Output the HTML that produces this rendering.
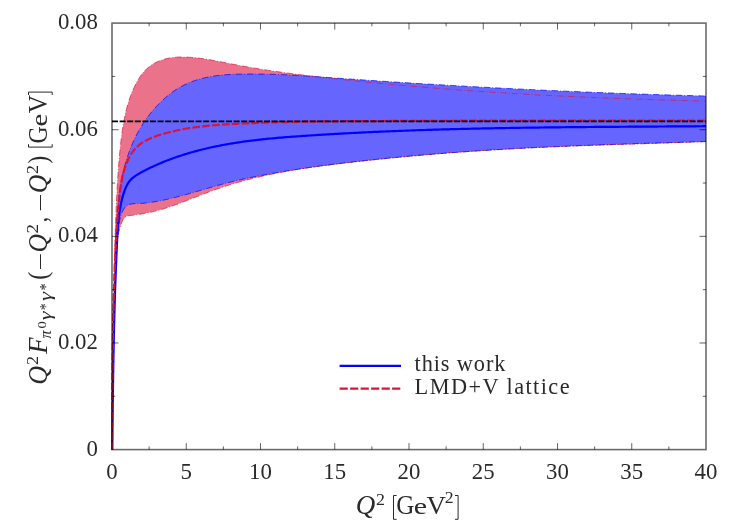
<!DOCTYPE html><html><head><meta charset="utf-8"><style>html,body{margin:0;padding:0;background:#fff}svg{display:block;will-change:transform}.s{font-family:"Liberation Serif",serif}</style></head><body><svg width="747" height="523" viewBox="0 0 747 523">
<rect width="747" height="523" fill="#fff"/>
<defs><clipPath id="cp"><rect x="111.00" y="23.10" width="596.00" height="427.00"/></clipPath></defs>
<g clip-path="url(#cp)" fill="none">
<path d="M112.20,449.60 L112.16,447.21 L112.17,444.83 L112.18,442.45 L112.20,440.06 L112.21,437.68 L112.22,435.30 L112.23,432.91 L112.25,430.53 L112.26,428.15 L112.27,425.76 L112.28,423.38 L112.30,421.00 L112.31,418.61 L112.32,416.23 L112.34,413.84 L112.35,411.46 L112.37,409.08 L112.38,406.69 L112.39,404.31 L112.41,401.92 L112.42,399.54 L112.44,397.16 L112.46,394.77 L112.47,392.39 L112.49,390.00 L112.50,387.62 L112.52,385.23 L112.54,382.85 L112.56,380.46 L112.57,378.08 L112.59,375.70 L112.61,373.31 L112.63,370.93 L112.65,368.54 L112.67,366.16 L112.70,363.77 L112.72,361.39 L112.74,359.00 L112.76,356.62 L112.79,354.23 L112.81,351.85 L112.84,349.47 L112.86,347.08 L112.89,344.70 L112.92,342.31 L112.94,339.93 L112.97,337.54 L113.00,335.16 L113.03,332.77 L113.06,330.39 L113.10,328.00 L113.13,325.62 L113.16,323.23 L113.20,320.85 L113.23,318.47 L113.27,316.08 L113.31,313.70 L113.34,311.31 L113.38,308.93 L113.42,306.54 L113.46,304.16 L113.51,301.78 L113.55,299.39 L113.59,297.01 L113.64,294.62 L113.68,292.24 L113.73,289.85 L113.78,287.47 L113.83,285.09 L113.88,282.70 L113.93,280.32 L113.99,277.94 L114.04,275.55 L114.10,273.17 L114.15,270.78 L114.21,268.40 L114.27,266.02 L114.33,263.63 L114.39,261.25 L114.46,258.87 L114.52,256.48 L114.59,254.10 L114.66,251.72 L114.73,249.34 L114.80,246.95 L114.87,244.57 L114.94,242.19 L115.02,239.81 L115.09,237.42 L115.17,235.04 L115.25,232.66 L115.33,230.28 L115.41,227.89 L115.50,225.51 L115.58,223.13 L115.67,220.75 L115.76,218.37 L115.85,215.99 L115.95,213.60 L116.04,211.22 L116.14,208.84 L116.24,206.46 L116.35,204.08 L116.46,201.70 L116.57,199.32 L116.69,196.94 L116.81,194.56 L116.93,192.18 L117.06,189.80 L117.19,187.42 L117.33,185.04 L117.47,182.66 L117.62,180.28 L117.77,177.90 L117.93,175.52 L118.10,173.14 L118.26,170.76 L118.44,168.38 L118.62,166.00 L118.81,163.62 L119.01,161.24 L119.21,158.86 L119.42,156.49 L119.64,154.11 L119.86,151.73 L120.09,149.35 L120.33,146.97 L120.59,144.60 L120.85,142.23 L121.13,139.85 L121.42,137.49 L121.73,135.12 L122.05,132.76 L122.39,130.40 L122.75,128.05 L123.12,125.70 L123.52,123.35 L123.94,121.01 L124.38,118.68 L124.84,116.35 L125.34,114.04 L125.87,111.72 L126.43,109.42 L127.03,107.12 L127.67,104.83 L128.35,102.55 L129.08,100.28 L129.84,98.02 L130.65,95.78 L131.51,93.54 L132.42,91.31 L133.37,89.10 L134.37,86.90 L135.43,84.72 L136.55,82.56 L137.73,80.45 L138.98,78.39 L140.30,76.38 L141.69,74.45 L143.17,72.59 L144.73,70.82 L146.38,69.14 L148.13,67.58 L149.97,66.13 L151.90,64.79 L153.91,63.56 L155.99,62.45 L158.14,61.44 L160.35,60.55 L162.60,59.76 L164.89,59.08 L167.21,58.50 L169.56,58.03 L171.93,57.65 L174.31,57.37 L176.70,57.18 L179.10,57.06 L181.50,57.02 L183.91,57.04 L186.31,57.11 L188.72,57.24 L191.11,57.40 L193.50,57.60 L195.88,57.82 L198.25,58.08 L200.61,58.37 L202.97,58.69 L205.32,59.04 L207.66,59.41 L210.00,59.81 L212.34,60.23 L214.67,60.67 L217.00,61.12 L219.33,61.58 L221.66,62.04 L224.00,62.50 L226.33,62.96 L228.67,63.42 L231.01,63.87 L233.35,64.33 L235.70,64.77 L238.04,65.22 L240.39,65.66 L242.73,66.09 L245.08,66.51 L247.43,66.93 L249.78,67.34 L252.13,67.74 L254.48,68.14 L256.83,68.53 L259.19,68.91 L261.54,69.29 L263.90,69.66 L266.26,70.03 L268.61,70.38 L270.97,70.74 L273.33,71.09 L275.69,71.43 L278.05,71.77 L280.41,72.10 L282.77,72.43 L285.13,72.75 L287.50,73.07 L289.86,73.39 L292.22,73.70 L294.59,74.00 L296.95,74.31 L299.32,74.60 L301.69,74.90 L304.05,75.19 L306.42,75.48 L308.79,75.76 L311.16,76.04 L313.52,76.32 L315.89,76.60 L318.26,76.87 L320.63,77.14 L323.00,77.41 L325.37,77.68 L327.74,77.94 L330.11,78.21 L332.48,78.47 L334.85,78.73 L337.22,78.98 L339.59,79.24 L341.96,79.49 L344.33,79.75 L346.70,80.00 L349.08,80.25 L351.45,80.49 L353.82,80.74 L356.19,80.98 L358.56,81.22 L360.93,81.46 L363.31,81.70 L365.68,81.94 L368.05,82.17 L370.42,82.41 L372.80,82.64 L375.17,82.87 L377.54,83.10 L379.92,83.32 L382.29,83.55 L384.66,83.77 L387.04,83.99 L389.41,84.21 L391.79,84.43 L394.16,84.65 L396.53,84.86 L398.91,85.08 L401.28,85.29 L403.66,85.50 L406.03,85.71 L408.41,85.91 L410.78,86.12 L413.16,86.32 L415.53,86.53 L417.91,86.73 L420.28,86.92 L422.66,87.12 L425.04,87.32 L427.41,87.51 L429.79,87.70 L432.17,87.90 L434.54,88.08 L436.92,88.27 L439.30,88.46 L441.67,88.64 L444.05,88.83 L446.43,89.01 L448.80,89.19 L451.18,89.37 L453.56,89.54 L455.94,89.72 L458.31,89.89 L460.69,90.07 L463.07,90.24 L465.45,90.41 L467.83,90.58 L470.20,90.74 L472.58,90.91 L474.96,91.07 L477.34,91.23 L479.72,91.39 L482.10,91.55 L484.48,91.71 L486.85,91.87 L489.23,92.02 L491.61,92.18 L493.99,92.33 L496.37,92.48 L498.75,92.63 L501.13,92.78 L503.51,92.92 L505.89,93.07 L508.27,93.21 L510.65,93.35 L513.03,93.49 L515.41,93.63 L517.79,93.77 L520.17,93.91 L522.55,94.04 L524.93,94.18 L527.31,94.31 L529.69,94.44 L532.08,94.57 L534.46,94.70 L536.84,94.83 L539.22,94.96 L541.60,95.08 L543.98,95.21 L546.36,95.33 L548.74,95.45 L551.12,95.57 L553.51,95.69 L555.89,95.81 L558.27,95.92 L560.65,96.04 L563.03,96.15 L565.42,96.26 L567.80,96.38 L570.18,96.49 L572.56,96.60 L574.94,96.70 L577.33,96.81 L579.71,96.92 L582.09,97.02 L584.47,97.13 L586.85,97.23 L589.24,97.33 L591.62,97.43 L594.00,97.53 L596.38,97.63 L598.77,97.73 L601.15,97.82 L603.53,97.92 L605.91,98.01 L608.30,98.10 L610.68,98.20 L613.06,98.29 L615.45,98.38 L617.83,98.47 L620.21,98.55 L622.59,98.64 L624.98,98.73 L627.36,98.81 L629.74,98.90 L632.13,98.98 L634.51,99.06 L636.89,99.14 L639.27,99.22 L641.66,99.30 L644.04,99.38 L646.42,99.46 L648.81,99.54 L651.19,99.61 L653.57,99.69 L655.96,99.76 L658.34,99.83 L660.72,99.91 L663.10,99.98 L665.49,100.05 L667.87,100.12 L670.25,100.19 L672.64,100.25 L675.02,100.32 L677.40,100.39 L679.79,100.45 L682.17,100.52 L684.55,100.58 L686.93,100.65 L689.32,100.71 L691.70,100.77 L694.08,100.83 L696.47,100.89 L698.85,100.95 L701.23,101.01 L703.62,101.07 L706.00,101.10 L706.00,141.50 L703.94,141.58 L701.88,141.67 L699.82,141.76 L697.76,141.84 L695.70,141.92 L693.64,142.01 L691.58,142.09 L689.51,142.17 L687.45,142.25 L685.39,142.33 L683.33,142.40 L681.27,142.48 L679.21,142.56 L677.15,142.63 L675.09,142.70 L673.02,142.78 L670.96,142.85 L668.90,142.92 L666.84,142.99 L664.78,143.06 L662.71,143.13 L660.65,143.20 L658.59,143.27 L656.53,143.33 L654.46,143.40 L652.40,143.47 L650.34,143.53 L648.28,143.60 L646.21,143.66 L644.15,143.73 L642.09,143.79 L640.03,143.85 L637.96,143.92 L635.90,143.98 L633.84,144.04 L631.77,144.11 L629.71,144.17 L627.65,144.23 L625.59,144.30 L623.52,144.36 L621.46,144.42 L619.40,144.48 L617.33,144.55 L615.27,144.61 L613.21,144.67 L611.14,144.74 L609.08,144.80 L607.02,144.87 L604.95,144.93 L602.89,144.99 L600.83,145.06 L598.77,145.12 L596.70,145.19 L594.64,145.26 L592.58,145.32 L590.51,145.39 L588.45,145.46 L586.39,145.53 L584.32,145.59 L582.26,145.66 L580.20,145.73 L578.14,145.80 L576.07,145.88 L574.01,145.95 L571.95,146.02 L569.89,146.10 L567.82,146.17 L565.76,146.25 L563.70,146.32 L561.64,146.40 L559.57,146.48 L557.51,146.56 L555.45,146.64 L553.39,146.73 L551.32,146.81 L549.26,146.89 L547.20,146.98 L545.14,147.07 L543.08,147.16 L541.02,147.25 L538.95,147.34 L536.89,147.43 L534.83,147.52 L532.77,147.62 L530.71,147.72 L528.65,147.81 L526.59,147.91 L524.53,148.02 L522.47,148.12 L520.41,148.22 L518.34,148.33 L516.28,148.44 L514.22,148.55 L512.16,148.66 L510.10,148.78 L508.04,148.89 L505.98,149.01 L503.92,149.13 L501.87,149.25 L499.81,149.37 L497.75,149.49 L495.69,149.62 L493.63,149.75 L491.57,149.87 L489.51,150.01 L487.45,150.14 L485.39,150.27 L483.34,150.41 L481.28,150.54 L479.22,150.68 L477.16,150.82 L475.10,150.96 L473.04,151.11 L470.99,151.25 L468.93,151.40 L466.87,151.55 L464.81,151.70 L462.76,151.85 L460.70,152.00 L458.64,152.15 L456.59,152.31 L454.53,152.47 L452.47,152.63 L450.42,152.79 L448.36,152.95 L446.30,153.11 L444.25,153.28 L442.19,153.45 L440.13,153.61 L438.08,153.78 L436.02,153.96 L433.97,154.13 L431.91,154.30 L429.85,154.48 L427.80,154.66 L425.74,154.84 L423.69,155.02 L421.63,155.20 L419.58,155.38 L417.52,155.57 L415.47,155.75 L413.41,155.94 L411.36,156.13 L409.30,156.32 L407.25,156.51 L405.19,156.70 L403.14,156.90 L401.09,157.10 L399.03,157.29 L396.98,157.49 L394.92,157.69 L392.87,157.90 L390.82,158.10 L388.76,158.30 L386.71,158.51 L384.66,158.72 L382.60,158.93 L380.55,159.14 L378.50,159.35 L376.44,159.56 L374.39,159.77 L372.34,159.99 L370.29,160.21 L368.23,160.43 L366.18,160.65 L364.13,160.87 L362.08,161.09 L360.02,161.31 L357.97,161.54 L355.92,161.76 L353.87,161.99 L351.82,162.22 L349.76,162.45 L347.71,162.69 L345.66,162.92 L343.61,163.16 L341.56,163.40 L339.51,163.65 L337.46,163.89 L335.41,164.14 L333.36,164.39 L331.31,164.65 L329.27,164.91 L327.22,165.17 L325.17,165.43 L323.13,165.70 L321.08,165.98 L319.04,166.25 L316.99,166.53 L314.95,166.82 L312.91,167.11 L310.86,167.40 L308.82,167.70 L306.78,168.01 L304.74,168.32 L302.71,168.63 L300.67,168.95 L298.63,169.28 L296.60,169.61 L294.56,169.95 L292.53,170.29 L290.49,170.64 L288.46,170.99 L286.43,171.36 L284.40,171.72 L282.38,172.10 L280.35,172.48 L278.32,172.87 L276.30,173.26 L274.28,173.67 L272.25,174.08 L270.23,174.49 L268.21,174.92 L266.20,175.35 L264.18,175.79 L262.17,176.24 L260.15,176.70 L258.14,177.17 L256.13,177.64 L254.13,178.12 L252.12,178.61 L250.12,179.12 L248.12,179.63 L246.12,180.15 L244.12,180.68 L242.13,181.22 L240.14,181.77 L238.16,182.33 L236.17,182.90 L234.19,183.48 L232.22,184.07 L230.25,184.67 L228.28,185.29 L226.31,185.91 L224.35,186.55 L222.40,187.20 L220.45,187.86 L218.50,188.53 L216.56,189.21 L214.62,189.90 L212.68,190.61 L210.75,191.32 L208.82,192.04 L206.89,192.76 L204.96,193.49 L203.03,194.23 L201.11,194.97 L199.18,195.71 L197.26,196.46 L195.33,197.21 L193.41,197.96 L191.48,198.71 L189.55,199.46 L187.62,200.21 L185.69,200.96 L183.76,201.70 L181.82,202.44 L179.88,203.16 L177.94,203.88 L176.00,204.59 L174.05,205.29 L172.10,205.98 L170.15,206.65 L168.19,207.30 L166.23,207.94 L164.27,208.56 L162.30,209.16 L160.32,209.74 L158.34,210.29 L156.36,210.82 L154.37,211.33 L152.37,211.81 L150.37,212.26 L148.36,212.69 L146.35,213.08 L144.33,213.46 L142.30,213.81 L140.27,214.14 L138.22,214.45 L136.18,214.74 L134.12,215.02 L132.06,215.28 L129.98,215.53 L127.95,215.85 L126.07,216.50 L124.50,217.71 L123.23,219.37 L122.23,221.23 L121.44,223.19 L120.78,225.20 L120.17,227.22 L119.58,229.22 L119.03,231.21 L118.53,233.20 L118.08,235.20 L117.71,237.21 L117.39,239.23 L117.12,241.27 L116.90,243.31 L116.72,245.35 L116.57,247.41 L116.45,249.47 L116.35,251.53 L116.26,253.59 L116.18,255.66 L116.09,257.72 L116.01,259.79 L115.93,261.85 L115.85,263.92 L115.77,265.98 L115.69,268.05 L115.61,270.11 L115.54,272.18 L115.46,274.24 L115.39,276.30 L115.32,278.37 L115.24,280.43 L115.17,282.50 L115.10,284.56 L115.03,286.62 L114.96,288.69 L114.90,290.75 L114.83,292.81 L114.76,294.88 L114.70,296.94 L114.64,299.00 L114.57,301.07 L114.51,303.13 L114.45,305.19 L114.39,307.26 L114.33,309.32 L114.27,311.38 L114.22,313.44 L114.16,315.51 L114.11,317.57 L114.05,319.63 L114.00,321.69 L113.95,323.76 L113.89,325.82 L113.84,327.88 L113.79,329.94 L113.74,332.01 L113.69,334.07 L113.65,336.13 L113.60,338.19 L113.55,340.26 L113.51,342.32 L113.47,344.38 L113.42,346.44 L113.38,348.51 L113.34,350.57 L113.30,352.63 L113.26,354.69 L113.22,356.76 L113.18,358.82 L113.14,360.88 L113.10,362.94 L113.07,365.00 L113.03,367.07 L113.00,369.13 L112.96,371.19 L112.93,373.25 L112.90,375.32 L112.87,377.38 L112.84,379.44 L112.81,381.50 L112.78,383.57 L112.75,385.63 L112.72,387.69 L112.69,389.75 L112.67,391.82 L112.64,393.88 L112.62,395.94 L112.59,398.01 L112.57,400.07 L112.54,402.13 L112.52,404.20 L112.50,406.26 L112.48,408.32 L112.46,410.38 L112.44,412.45 L112.42,414.51 L112.40,416.57 L112.38,418.64 L112.37,420.70 L112.35,422.77 L112.33,424.83 L112.32,426.89 L112.31,428.96 L112.29,431.02 L112.28,433.09 L112.27,435.15 L112.25,437.21 L112.24,439.28 L112.23,441.34 L112.22,443.41 L112.21,445.47 L112.20,447.54 L112.20,449.60 Z" fill="#ea728a"/>
<path d="M112.20,449.60 L112.20,447.31 L112.19,445.03 L112.19,442.75 L112.19,440.46 L112.19,438.18 L112.19,435.90 L112.19,433.61 L112.20,431.33 L112.20,429.04 L112.21,426.76 L112.22,424.47 L112.23,422.19 L112.24,419.90 L112.26,417.62 L112.27,415.33 L112.29,413.05 L112.31,410.76 L112.33,408.48 L112.35,406.19 L112.38,403.91 L112.40,401.62 L112.43,399.34 L112.45,397.05 L112.48,394.77 L112.51,392.48 L112.54,390.20 L112.57,387.91 L112.60,385.63 L112.64,383.34 L112.67,381.06 L112.71,378.77 L112.74,376.49 L112.78,374.20 L112.82,371.91 L112.86,369.63 L112.90,367.34 L112.94,365.06 L112.98,362.77 L113.02,360.49 L113.07,358.20 L113.11,355.92 L113.15,353.63 L113.20,351.35 L113.24,349.06 L113.29,346.78 L113.34,344.49 L113.38,342.21 L113.43,339.92 L113.48,337.63 L113.53,335.35 L113.58,333.06 L113.62,330.78 L113.67,328.50 L113.72,326.21 L113.77,323.93 L113.82,321.64 L113.87,319.36 L113.92,317.07 L113.97,314.79 L114.02,312.50 L114.07,310.22 L114.12,307.94 L114.17,305.65 L114.22,303.37 L114.27,301.08 L114.32,298.80 L114.37,296.52 L114.42,294.23 L114.47,291.95 L114.52,289.67 L114.57,287.38 L114.62,285.10 L114.66,282.82 L114.71,280.53 L114.76,278.25 L114.81,275.97 L114.87,273.69 L114.92,271.40 L114.97,269.12 L115.03,266.84 L115.09,264.56 L115.15,262.27 L115.21,259.99 L115.28,257.71 L115.34,255.43 L115.42,253.14 L115.49,250.86 L115.57,248.58 L115.65,246.30 L115.73,244.01 L115.82,241.73 L115.92,239.45 L116.02,237.16 L116.12,234.88 L116.23,232.60 L116.34,230.31 L116.46,228.03 L116.59,225.74 L116.72,223.46 L116.85,221.18 L117.00,218.89 L117.15,216.61 L117.31,214.32 L117.49,212.04 L117.67,209.76 L117.87,207.48 L118.07,205.20 L118.30,202.93 L118.53,200.65 L118.79,198.38 L119.06,196.11 L119.34,193.84 L119.65,191.58 L119.97,189.32 L120.32,187.06 L120.68,184.81 L121.07,182.56 L121.48,180.32 L121.92,178.08 L122.38,175.84 L122.86,173.61 L123.37,171.39 L123.91,169.17 L124.48,166.95 L125.07,164.74 L125.70,162.54 L126.35,160.35 L127.03,158.17 L127.74,156.00 L128.49,153.83 L129.26,151.68 L130.06,149.54 L130.89,147.41 L131.76,145.30 L132.65,143.20 L133.58,141.11 L134.54,139.04 L135.53,136.99 L136.56,134.95 L137.62,132.93 L138.71,130.93 L139.83,128.94 L140.99,126.98 L142.18,125.04 L143.41,123.12 L144.67,121.22 L145.97,119.34 L147.30,117.49 L148.67,115.66 L150.08,113.86 L151.52,112.08 L152.99,110.33 L154.50,108.60 L156.04,106.90 L157.61,105.23 L159.20,103.58 L160.83,101.97 L162.48,100.38 L164.16,98.83 L165.88,97.31 L167.62,95.83 L169.39,94.40 L171.20,93.01 L173.04,91.66 L174.91,90.36 L176.81,89.12 L178.75,87.93 L180.72,86.80 L182.73,85.72 L184.76,84.71 L186.83,83.75 L188.93,82.84 L191.05,81.99 L193.19,81.19 L195.35,80.44 L197.54,79.75 L199.74,79.10 L201.95,78.50 L204.17,77.95 L206.41,77.44 L208.65,76.98 L210.90,76.56 L213.16,76.19 L215.42,75.85 L217.68,75.56 L219.94,75.30 L222.21,75.07 L224.49,74.87 L226.76,74.71 L229.04,74.57 L231.32,74.45 L233.60,74.35 L235.88,74.27 L238.17,74.21 L240.45,74.16 L242.73,74.12 L245.02,74.09 L247.30,74.07 L249.59,74.05 L251.88,74.05 L254.16,74.05 L256.45,74.06 L258.73,74.07 L261.02,74.10 L263.30,74.13 L265.59,74.17 L267.88,74.21 L270.16,74.27 L272.45,74.33 L274.73,74.40 L277.02,74.47 L279.30,74.55 L281.58,74.64 L283.87,74.74 L286.15,74.84 L288.43,74.95 L290.71,75.07 L293.00,75.19 L295.28,75.31 L297.56,75.45 L299.84,75.58 L302.12,75.72 L304.40,75.87 L306.68,76.02 L308.96,76.17 L311.24,76.32 L313.52,76.48 L315.80,76.64 L318.07,76.80 L320.35,76.96 L322.63,77.13 L324.91,77.29 L327.19,77.45 L329.47,77.62 L331.75,77.78 L334.03,77.94 L336.31,78.10 L338.58,78.26 L340.86,78.42 L343.14,78.58 L345.42,78.74 L347.70,78.90 L349.98,79.05 L352.26,79.21 L354.54,79.37 L356.82,79.52 L359.10,79.68 L361.38,79.83 L363.66,79.99 L365.94,80.14 L368.22,80.29 L370.50,80.44 L372.78,80.60 L375.06,80.75 L377.34,80.90 L379.62,81.05 L381.90,81.20 L384.18,81.34 L386.46,81.49 L388.74,81.64 L391.02,81.79 L393.30,81.93 L395.58,82.08 L397.86,82.22 L400.14,82.37 L402.42,82.51 L404.70,82.65 L406.98,82.80 L409.26,82.94 L411.54,83.08 L413.82,83.22 L416.10,83.36 L418.38,83.50 L420.66,83.64 L422.94,83.78 L425.22,83.92 L427.50,84.05 L429.78,84.19 L432.07,84.32 L434.35,84.46 L436.63,84.59 L438.91,84.73 L441.19,84.86 L443.47,84.99 L445.75,85.13 L448.03,85.26 L450.31,85.39 L452.59,85.52 L454.88,85.65 L457.16,85.78 L459.44,85.91 L461.72,86.03 L464.00,86.16 L466.28,86.29 L468.56,86.41 L470.85,86.54 L473.13,86.66 L475.41,86.79 L477.69,86.91 L479.97,87.03 L482.25,87.16 L484.54,87.28 L486.82,87.40 L489.10,87.52 L491.38,87.64 L493.66,87.76 L495.95,87.88 L498.23,88.00 L500.51,88.11 L502.79,88.23 L505.07,88.34 L507.36,88.46 L509.64,88.57 L511.92,88.69 L514.20,88.80 L516.48,88.91 L518.77,89.03 L521.05,89.14 L523.33,89.25 L525.61,89.36 L527.90,89.47 L530.18,89.58 L532.46,89.69 L534.74,89.79 L537.03,89.90 L539.31,90.01 L541.59,90.11 L543.87,90.22 L546.16,90.32 L548.44,90.43 L550.72,90.53 L553.00,90.63 L555.29,90.73 L557.57,90.84 L559.85,90.94 L562.13,91.04 L564.42,91.14 L566.70,91.23 L568.98,91.33 L571.27,91.43 L573.55,91.53 L575.83,91.62 L578.11,91.72 L580.40,91.81 L582.68,91.91 L584.96,92.00 L587.25,92.09 L589.53,92.19 L591.81,92.28 L594.10,92.37 L596.38,92.46 L598.66,92.55 L600.95,92.64 L603.23,92.72 L605.51,92.81 L607.80,92.90 L610.08,92.99 L612.36,93.07 L614.65,93.16 L616.93,93.24 L619.21,93.32 L621.50,93.41 L623.78,93.49 L626.06,93.57 L628.35,93.65 L630.63,93.73 L632.91,93.81 L635.20,93.89 L637.48,93.97 L639.77,94.05 L642.05,94.12 L644.33,94.20 L646.62,94.28 L648.90,94.35 L651.18,94.43 L653.47,94.50 L655.75,94.57 L658.04,94.64 L660.32,94.72 L662.60,94.79 L664.89,94.86 L667.17,94.93 L669.45,95.00 L671.74,95.06 L674.02,95.13 L676.31,95.20 L678.59,95.26 L680.87,95.33 L683.16,95.39 L685.44,95.46 L687.73,95.52 L690.01,95.59 L692.29,95.65 L694.58,95.71 L696.86,95.77 L699.15,95.83 L701.43,95.89 L703.72,95.95 L706.00,96.00 L706.00,141.50 L703.92,141.63 L701.84,141.69 L699.76,141.74 L697.68,141.80 L695.60,141.86 L693.52,141.92 L691.44,141.98 L689.36,142.04 L687.27,142.10 L685.19,142.16 L683.11,142.22 L681.03,142.28 L678.95,142.34 L676.87,142.40 L674.79,142.46 L672.71,142.52 L670.63,142.58 L668.55,142.64 L666.46,142.71 L664.38,142.77 L662.30,142.83 L660.22,142.89 L658.14,142.95 L656.06,143.02 L653.98,143.08 L651.90,143.14 L649.82,143.21 L647.73,143.27 L645.65,143.34 L643.57,143.40 L641.49,143.47 L639.41,143.53 L637.33,143.60 L635.25,143.67 L633.17,143.74 L631.08,143.80 L629.00,143.87 L626.92,143.94 L624.84,144.01 L622.76,144.08 L620.68,144.15 L618.60,144.22 L616.52,144.29 L614.43,144.36 L612.35,144.44 L610.27,144.51 L608.19,144.58 L606.11,144.66 L604.03,144.73 L601.95,144.81 L599.87,144.88 L597.79,144.96 L595.70,145.04 L593.62,145.12 L591.54,145.19 L589.46,145.27 L587.38,145.35 L585.30,145.43 L583.22,145.52 L581.14,145.60 L579.06,145.68 L576.98,145.77 L574.90,145.85 L572.82,145.94 L570.73,146.02 L568.65,146.11 L566.57,146.20 L564.49,146.29 L562.41,146.38 L560.33,146.47 L558.25,146.56 L556.17,146.65 L554.09,146.74 L552.01,146.84 L549.93,146.93 L547.85,147.03 L545.77,147.13 L543.69,147.22 L541.61,147.32 L539.53,147.42 L537.45,147.52 L535.37,147.62 L533.29,147.73 L531.21,147.83 L529.13,147.94 L527.05,148.04 L524.97,148.15 L522.90,148.26 L520.82,148.37 L518.74,148.48 L516.66,148.59 L514.58,148.70 L512.50,148.81 L510.42,148.93 L508.34,149.05 L506.26,149.16 L504.18,149.28 L502.11,149.40 L500.03,149.52 L497.95,149.64 L495.87,149.77 L493.79,149.89 L491.71,150.02 L489.64,150.14 L487.56,150.27 L485.48,150.40 L483.40,150.53 L481.33,150.67 L479.25,150.80 L477.17,150.93 L475.09,151.07 L473.02,151.21 L470.94,151.35 L468.86,151.49 L466.78,151.63 L464.71,151.77 L462.63,151.92 L460.55,152.06 L458.48,152.21 L456.40,152.36 L454.33,152.51 L452.25,152.66 L450.17,152.82 L448.10,152.97 L446.02,153.13 L443.95,153.29 L441.87,153.44 L439.79,153.61 L437.72,153.77 L435.64,153.93 L433.57,154.10 L431.49,154.27 L429.42,154.44 L427.34,154.61 L425.27,154.78 L423.20,154.95 L421.12,155.13 L419.05,155.31 L416.97,155.48 L414.90,155.67 L412.83,155.85 L410.75,156.03 L408.68,156.22 L406.60,156.41 L404.53,156.60 L402.46,156.79 L400.39,156.98 L398.31,157.17 L396.24,157.37 L394.17,157.57 L392.10,157.77 L390.02,157.97 L387.95,158.18 L385.88,158.38 L383.81,158.59 L381.74,158.80 L379.66,159.01 L377.59,159.22 L375.52,159.44 L373.45,159.66 L371.38,159.88 L369.31,160.10 L367.24,160.32 L365.17,160.55 L363.10,160.77 L361.03,161.00 L358.96,161.23 L356.89,161.47 L354.82,161.70 L352.75,161.94 L350.68,162.18 L348.61,162.42 L346.55,162.67 L344.48,162.91 L342.41,163.16 L340.34,163.41 L338.27,163.67 L336.21,163.93 L334.14,164.18 L332.07,164.45 L330.01,164.71 L327.94,164.98 L325.88,165.25 L323.81,165.52 L321.75,165.80 L319.68,166.08 L317.62,166.36 L315.56,166.64 L313.50,166.93 L311.43,167.22 L309.37,167.52 L307.31,167.82 L305.25,168.12 L303.19,168.42 L301.13,168.73 L299.07,169.04 L297.01,169.36 L294.95,169.68 L292.90,170.00 L290.84,170.32 L288.78,170.65 L286.73,170.99 L284.67,171.32 L282.62,171.67 L280.57,172.01 L278.51,172.36 L276.46,172.71 L274.41,173.07 L272.36,173.43 L270.31,173.80 L268.26,174.17 L266.21,174.54 L264.16,174.92 L262.12,175.30 L260.07,175.69 L258.03,176.08 L255.98,176.48 L253.94,176.88 L251.90,177.29 L249.86,177.71 L247.82,178.13 L245.79,178.56 L243.75,178.99 L241.72,179.44 L239.69,179.89 L237.66,180.35 L235.63,180.81 L233.60,181.29 L231.58,181.77 L229.56,182.26 L227.54,182.77 L225.52,183.28 L223.51,183.80 L221.50,184.33 L219.49,184.88 L217.49,185.43 L215.49,185.99 L213.48,186.56 L211.48,187.13 L209.49,187.71 L207.49,188.30 L205.49,188.88 L203.49,189.47 L201.49,190.06 L199.50,190.65 L197.50,191.24 L195.50,191.83 L193.49,192.41 L191.49,192.99 L189.48,193.56 L187.47,194.13 L185.46,194.69 L183.45,195.24 L181.43,195.79 L179.41,196.32 L177.40,196.85 L175.37,197.36 L173.35,197.86 L171.33,198.35 L169.30,198.82 L167.27,199.28 L165.24,199.73 L163.21,200.16 L161.18,200.57 L159.14,200.96 L157.11,201.34 L155.07,201.70 L153.03,202.03 L150.99,202.35 L148.95,202.64 L146.90,202.90 L144.83,203.12 L142.74,203.31 L140.61,203.45 L138.46,203.53 L136.27,203.58 L134.09,203.65 L131.97,203.85 L129.96,204.26 L128.12,204.97 L126.47,206.02 L125.05,207.39 L123.84,209.00 L122.81,210.76 L121.94,212.61 L121.21,214.53 L120.59,216.52 L120.08,218.55 L119.65,220.63 L119.29,222.73 L118.98,224.84 L118.70,226.95 L118.44,229.06 L118.20,231.16 L117.98,233.25 L117.78,235.34 L117.59,237.43 L117.41,239.51 L117.25,241.59 L117.10,243.66 L116.96,245.73 L116.82,247.80 L116.70,249.87 L116.58,251.94 L116.46,254.01 L116.35,256.08 L116.24,258.15 L116.13,260.22 L116.03,262.29 L115.93,264.36 L115.83,266.43 L115.73,268.51 L115.63,270.58 L115.54,272.65 L115.45,274.73 L115.36,276.80 L115.27,278.88 L115.18,280.95 L115.10,283.03 L115.02,285.10 L114.94,287.18 L114.86,289.26 L114.79,291.34 L114.71,293.42 L114.64,295.49 L114.57,297.57 L114.50,299.65 L114.43,301.73 L114.37,303.81 L114.30,305.89 L114.24,307.97 L114.18,310.06 L114.12,312.14 L114.07,314.22 L114.01,316.30 L113.96,318.38 L113.90,320.47 L113.85,322.55 L113.80,324.63 L113.75,326.71 L113.71,328.80 L113.66,330.88 L113.62,332.97 L113.57,335.05 L113.53,337.13 L113.49,339.22 L113.45,341.30 L113.41,343.39 L113.37,345.47 L113.34,347.56 L113.30,349.64 L113.27,351.73 L113.23,353.81 L113.20,355.90 L113.17,357.98 L113.14,360.07 L113.11,362.15 L113.08,364.24 L113.05,366.32 L113.02,368.41 L112.99,370.49 L112.97,372.58 L112.94,374.66 L112.92,376.75 L112.89,378.83 L112.87,380.92 L112.84,383.00 L112.82,385.09 L112.80,387.17 L112.77,389.26 L112.75,391.34 L112.73,393.42 L112.71,395.51 L112.69,397.59 L112.67,399.68 L112.65,401.76 L112.63,403.84 L112.61,405.93 L112.59,408.01 L112.57,410.09 L112.55,412.17 L112.53,414.25 L112.51,416.34 L112.49,418.42 L112.47,420.50 L112.45,422.58 L112.43,424.66 L112.41,426.74 L112.39,428.82 L112.37,430.90 L112.35,432.97 L112.33,435.05 L112.30,437.13 L112.28,439.21 L112.26,441.28 L112.24,443.36 L112.22,445.44 L112.19,447.51 L112.20,449.60 Z" fill="#6666ff"/>
<path d="M112.20,449.60 L112.16,447.21 L112.17,444.83 L112.18,442.45 L112.20,440.06 L112.21,437.68 L112.22,435.30 L112.23,432.91 L112.25,430.53 L112.26,428.15 L112.27,425.76 L112.28,423.38 L112.30,421.00 L112.31,418.61 L112.32,416.23 L112.34,413.84 L112.35,411.46 L112.37,409.08 L112.38,406.69 L112.39,404.31 L112.41,401.92 L112.42,399.54 L112.44,397.16 L112.46,394.77 L112.47,392.39 L112.49,390.00 L112.50,387.62 L112.52,385.23 L112.54,382.85 L112.56,380.46 L112.57,378.08 L112.59,375.70 L112.61,373.31 L112.63,370.93 L112.65,368.54 L112.67,366.16 L112.70,363.77 L112.72,361.39 L112.74,359.00 L112.76,356.62 L112.79,354.23 L112.81,351.85 L112.84,349.47 L112.86,347.08 L112.89,344.70 L112.92,342.31 L112.94,339.93 L112.97,337.54 L113.00,335.16 L113.03,332.77 L113.06,330.39 L113.10,328.00 L113.13,325.62 L113.16,323.23 L113.20,320.85 L113.23,318.47 L113.27,316.08 L113.31,313.70 L113.34,311.31 L113.38,308.93 L113.42,306.54 L113.46,304.16 L113.51,301.78 L113.55,299.39 L113.59,297.01 L113.64,294.62 L113.68,292.24 L113.73,289.85 L113.78,287.47 L113.83,285.09 L113.88,282.70 L113.93,280.32 L113.99,277.94 L114.04,275.55 L114.10,273.17 L114.15,270.78 L114.21,268.40 L114.27,266.02 L114.33,263.63 L114.39,261.25 L114.46,258.87 L114.52,256.48 L114.59,254.10 L114.66,251.72 L114.73,249.34 L114.80,246.95 L114.87,244.57 L114.94,242.19 L115.02,239.81 L115.09,237.42 L115.17,235.04 L115.25,232.66 L115.33,230.28 L115.41,227.89 L115.50,225.51 L115.58,223.13 L115.67,220.75 L115.76,218.37 L115.85,215.99 L115.95,213.60 L116.04,211.22 L116.14,208.84 L116.24,206.46 L116.35,204.08 L116.46,201.70 L116.57,199.32 L116.69,196.94 L116.81,194.56 L116.93,192.18 L117.06,189.80 L117.19,187.42 L117.33,185.04 L117.47,182.66 L117.62,180.28 L117.77,177.90 L117.93,175.52 L118.10,173.14 L118.26,170.76 L118.44,168.38 L118.62,166.00 L118.81,163.62 L119.01,161.24 L119.21,158.86 L119.42,156.49 L119.64,154.11 L119.86,151.73 L120.09,149.35 L120.33,146.97 L120.59,144.60 L120.85,142.23 L121.13,139.85 L121.42,137.49 L121.73,135.12 L122.05,132.76 L122.39,130.40 L122.75,128.05 L123.12,125.70 L123.52,123.35 L123.94,121.01 L124.38,118.68 L124.84,116.35 L125.34,114.04 L125.87,111.72 L126.43,109.42 L127.03,107.12 L127.67,104.83 L128.35,102.55 L129.08,100.28 L129.84,98.02 L130.65,95.78 L131.51,93.54 L132.42,91.31 L133.37,89.10 L134.37,86.90 L135.43,84.72 L136.55,82.56 L137.73,80.45 L138.98,78.39 L140.30,76.38 L141.69,74.45 L143.17,72.59 L144.73,70.82 L146.38,69.14 L148.13,67.58 L149.97,66.13 L151.90,64.79 L153.91,63.56 L155.99,62.45 L158.14,61.44 L160.35,60.55 L162.60,59.76 L164.89,59.08 L167.21,58.50 L169.56,58.03 L171.93,57.65 L174.31,57.37 L176.70,57.18 L179.10,57.06 L181.50,57.02 L183.91,57.04 L186.31,57.11 L188.72,57.24 L191.11,57.40 L193.50,57.60 L195.88,57.82 L198.25,58.08 L200.61,58.37 L202.97,58.69 L205.32,59.04 L207.66,59.41 L210.00,59.81 L212.34,60.23 L214.67,60.67 L217.00,61.12 L219.33,61.58 L221.66,62.04 L224.00,62.50 L226.33,62.96 L228.67,63.42 L231.01,63.87 L233.35,64.33 L235.70,64.77 L238.04,65.22 L240.39,65.66 L242.73,66.09 L245.08,66.51 L247.43,66.93 L249.78,67.34 L252.13,67.74 L254.48,68.14 L256.83,68.53 L259.19,68.91 L261.54,69.29 L263.90,69.66 L266.26,70.03 L268.61,70.38 L270.97,70.74 L273.33,71.09 L275.69,71.43 L278.05,71.77 L280.41,72.10 L282.77,72.43 L285.13,72.75 L287.50,73.07 L289.86,73.39 L292.22,73.70 L294.59,74.00 L296.95,74.31 L299.32,74.60 L301.69,74.90 L304.05,75.19 L306.42,75.48 L308.79,75.76 L311.16,76.04 L313.52,76.32 L315.89,76.60 L318.26,76.87 L320.63,77.14 L323.00,77.41 L325.37,77.68 L327.74,77.94 L330.11,78.21 L332.48,78.47 L334.85,78.73 L337.22,78.98 L339.59,79.24 L341.96,79.49 L344.33,79.75 L346.70,80.00 L349.08,80.25 L351.45,80.49 L353.82,80.74 L356.19,80.98 L358.56,81.22 L360.93,81.46 L363.31,81.70 L365.68,81.94 L368.05,82.17 L370.42,82.41 L372.80,82.64 L375.17,82.87 L377.54,83.10 L379.92,83.32 L382.29,83.55 L384.66,83.77 L387.04,83.99 L389.41,84.21 L391.79,84.43 L394.16,84.65 L396.53,84.86 L398.91,85.08 L401.28,85.29 L403.66,85.50 L406.03,85.71 L408.41,85.91 L410.78,86.12 L413.16,86.32 L415.53,86.53 L417.91,86.73 L420.28,86.92 L422.66,87.12 L425.04,87.32 L427.41,87.51 L429.79,87.70 L432.17,87.90 L434.54,88.08 L436.92,88.27 L439.30,88.46 L441.67,88.64 L444.05,88.83 L446.43,89.01 L448.80,89.19 L451.18,89.37 L453.56,89.54 L455.94,89.72 L458.31,89.89 L460.69,90.07 L463.07,90.24 L465.45,90.41 L467.83,90.58 L470.20,90.74 L472.58,90.91 L474.96,91.07 L477.34,91.23 L479.72,91.39 L482.10,91.55 L484.48,91.71 L486.85,91.87 L489.23,92.02 L491.61,92.18 L493.99,92.33 L496.37,92.48 L498.75,92.63 L501.13,92.78 L503.51,92.92 L505.89,93.07 L508.27,93.21 L510.65,93.35 L513.03,93.49 L515.41,93.63 L517.79,93.77 L520.17,93.91 L522.55,94.04 L524.93,94.18 L527.31,94.31 L529.69,94.44 L532.08,94.57 L534.46,94.70 L536.84,94.83 L539.22,94.96 L541.60,95.08 L543.98,95.21 L546.36,95.33 L548.74,95.45 L551.12,95.57 L553.51,95.69 L555.89,95.81 L558.27,95.92 L560.65,96.04 L563.03,96.15 L565.42,96.26 L567.80,96.38 L570.18,96.49 L572.56,96.60 L574.94,96.70 L577.33,96.81 L579.71,96.92 L582.09,97.02 L584.47,97.13 L586.85,97.23 L589.24,97.33 L591.62,97.43 L594.00,97.53 L596.38,97.63 L598.77,97.73 L601.15,97.82 L603.53,97.92 L605.91,98.01 L608.30,98.10 L610.68,98.20 L613.06,98.29 L615.45,98.38 L617.83,98.47 L620.21,98.55 L622.59,98.64 L624.98,98.73 L627.36,98.81 L629.74,98.90 L632.13,98.98 L634.51,99.06 L636.89,99.14 L639.27,99.22 L641.66,99.30 L644.04,99.38 L646.42,99.46 L648.81,99.54 L651.19,99.61 L653.57,99.69 L655.96,99.76 L658.34,99.83 L660.72,99.91 L663.10,99.98 L665.49,100.05 L667.87,100.12 L670.25,100.19 L672.64,100.25 L675.02,100.32 L677.40,100.39 L679.79,100.45 L682.17,100.52 L684.55,100.58 L686.93,100.65 L689.32,100.71 L691.70,100.77 L694.08,100.83 L696.47,100.89 L698.85,100.95 L701.23,101.01 L703.62,101.07 L706.00,101.10" stroke="#dc143c" stroke-width="0.7" stroke-dasharray="6.5 2 0.8 2"/>
<path d="M112.20,449.60 L112.20,447.54 L112.21,445.47 L112.22,443.41 L112.23,441.34 L112.24,439.28 L112.25,437.21 L112.27,435.15 L112.28,433.09 L112.29,431.02 L112.31,428.96 L112.32,426.89 L112.33,424.83 L112.35,422.77 L112.37,420.70 L112.38,418.64 L112.40,416.57 L112.42,414.51 L112.44,412.45 L112.46,410.38 L112.48,408.32 L112.50,406.26 L112.52,404.20 L112.54,402.13 L112.57,400.07 L112.59,398.01 L112.62,395.94 L112.64,393.88 L112.67,391.82 L112.69,389.75 L112.72,387.69 L112.75,385.63 L112.78,383.57 L112.81,381.50 L112.84,379.44 L112.87,377.38 L112.90,375.32 L112.93,373.25 L112.96,371.19 L113.00,369.13 L113.03,367.07 L113.07,365.00 L113.10,362.94 L113.14,360.88 L113.18,358.82 L113.22,356.76 L113.26,354.69 L113.30,352.63 L113.34,350.57 L113.38,348.51 L113.42,346.44 L113.47,344.38 L113.51,342.32 L113.55,340.26 L113.60,338.19 L113.65,336.13 L113.69,334.07 L113.74,332.01 L113.79,329.94 L113.84,327.88 L113.89,325.82 L113.95,323.76 L114.00,321.69 L114.05,319.63 L114.11,317.57 L114.16,315.51 L114.22,313.44 L114.27,311.38 L114.33,309.32 L114.39,307.26 L114.45,305.19 L114.51,303.13 L114.57,301.07 L114.64,299.00 L114.70,296.94 L114.76,294.88 L114.83,292.81 L114.90,290.75 L114.96,288.69 L115.03,286.62 L115.10,284.56 L115.17,282.50 L115.24,280.43 L115.32,278.37 L115.39,276.30 L115.46,274.24 L115.54,272.18 L115.61,270.11 L115.69,268.05 L115.77,265.98 L115.85,263.92 L115.93,261.85 L116.01,259.79 L116.09,257.72 L116.18,255.66 L116.26,253.59 L116.35,251.53 L116.45,249.47 L116.57,247.41 L116.72,245.35 L116.90,243.31 L117.12,241.27 L117.39,239.23 L117.71,237.21 L118.08,235.20 L118.53,233.20 L119.03,231.21 L119.58,229.22 L120.17,227.22 L120.78,225.20 L121.44,223.19 L122.23,221.23 L123.23,219.37 L124.50,217.71 L126.07,216.50 L127.95,215.85 L129.98,215.53 L132.06,215.28 L134.12,215.02 L136.18,214.74 L138.22,214.45 L140.27,214.14 L142.30,213.81 L144.33,213.46 L146.35,213.08 L148.36,212.69 L150.37,212.26 L152.37,211.81 L154.37,211.33 L156.36,210.82 L158.34,210.29 L160.32,209.74 L162.30,209.16 L164.27,208.56 L166.23,207.94 L168.19,207.30 L170.15,206.65 L172.10,205.98 L174.05,205.29 L176.00,204.59 L177.94,203.88 L179.88,203.16 L181.82,202.44 L183.76,201.70 L185.69,200.96 L187.62,200.21 L189.55,199.46 L191.48,198.71 L193.41,197.96 L195.33,197.21 L197.26,196.46 L199.18,195.71 L201.11,194.97 L203.03,194.23 L204.96,193.49 L206.89,192.76 L208.82,192.04 L210.75,191.32 L212.68,190.61 L214.62,189.90 L216.56,189.21 L218.50,188.53 L220.45,187.86 L222.40,187.20 L224.35,186.55 L226.31,185.91 L228.28,185.29 L230.25,184.67 L232.22,184.07 L234.19,183.48 L236.17,182.90 L238.16,182.33 L240.14,181.77 L242.13,181.22 L244.12,180.68 L246.12,180.15 L248.12,179.63 L250.12,179.12 L252.12,178.61 L254.13,178.12 L256.13,177.64 L258.14,177.17 L260.15,176.70 L262.17,176.24 L264.18,175.79 L266.20,175.35 L268.21,174.92 L270.23,174.49 L272.25,174.08 L274.28,173.67 L276.30,173.26 L278.32,172.87 L280.35,172.48 L282.38,172.10 L284.40,171.72 L286.43,171.36 L288.46,170.99 L290.49,170.64 L292.53,170.29 L294.56,169.95 L296.60,169.61 L298.63,169.28 L300.67,168.95 L302.71,168.63 L304.74,168.32 L306.78,168.01 L308.82,167.70 L310.86,167.40 L312.91,167.11 L314.95,166.82 L316.99,166.53 L319.04,166.25 L321.08,165.98 L323.13,165.70 L325.17,165.43 L327.22,165.17 L329.27,164.91 L331.31,164.65 L333.36,164.39 L335.41,164.14 L337.46,163.89 L339.51,163.65 L341.56,163.40 L343.61,163.16 L345.66,162.92 L347.71,162.69 L349.76,162.45 L351.82,162.22 L353.87,161.99 L355.92,161.76 L357.97,161.54 L360.02,161.31 L362.08,161.09 L364.13,160.87 L366.18,160.65 L368.23,160.43 L370.29,160.21 L372.34,159.99 L374.39,159.77 L376.44,159.56 L378.50,159.35 L380.55,159.14 L382.60,158.93 L384.66,158.72 L386.71,158.51 L388.76,158.30 L390.82,158.10 L392.87,157.90 L394.92,157.69 L396.98,157.49 L399.03,157.29 L401.09,157.10 L403.14,156.90 L405.19,156.70 L407.25,156.51 L409.30,156.32 L411.36,156.13 L413.41,155.94 L415.47,155.75 L417.52,155.57 L419.58,155.38 L421.63,155.20 L423.69,155.02 L425.74,154.84 L427.80,154.66 L429.85,154.48 L431.91,154.30 L433.97,154.13 L436.02,153.96 L438.08,153.78 L440.13,153.61 L442.19,153.45 L444.25,153.28 L446.30,153.11 L448.36,152.95 L450.42,152.79 L452.47,152.63 L454.53,152.47 L456.59,152.31 L458.64,152.15 L460.70,152.00 L462.76,151.85 L464.81,151.70 L466.87,151.55 L468.93,151.40 L470.99,151.25 L473.04,151.11 L475.10,150.96 L477.16,150.82 L479.22,150.68 L481.28,150.54 L483.34,150.41 L485.39,150.27 L487.45,150.14 L489.51,150.01 L491.57,149.87 L493.63,149.75 L495.69,149.62 L497.75,149.49 L499.81,149.37 L501.87,149.25 L503.92,149.13 L505.98,149.01 L508.04,148.89 L510.10,148.78 L512.16,148.66 L514.22,148.55 L516.28,148.44 L518.34,148.33 L520.41,148.22 L522.47,148.12 L524.53,148.02 L526.59,147.91 L528.65,147.81 L530.71,147.72 L532.77,147.62 L534.83,147.52 L536.89,147.43 L538.95,147.34 L541.02,147.25 L543.08,147.16 L545.14,147.07 L547.20,146.98 L549.26,146.89 L551.32,146.81 L553.39,146.73 L555.45,146.64 L557.51,146.56 L559.57,146.48 L561.64,146.40 L563.70,146.32 L565.76,146.25 L567.82,146.17 L569.89,146.10 L571.95,146.02 L574.01,145.95 L576.07,145.88 L578.14,145.80 L580.20,145.73 L582.26,145.66 L584.32,145.59 L586.39,145.53 L588.45,145.46 L590.51,145.39 L592.58,145.32 L594.64,145.26 L596.70,145.19 L598.77,145.12 L600.83,145.06 L602.89,144.99 L604.95,144.93 L607.02,144.87 L609.08,144.80 L611.14,144.74 L613.21,144.67 L615.27,144.61 L617.33,144.55 L619.40,144.48 L621.46,144.42 L623.52,144.36 L625.59,144.30 L627.65,144.23 L629.71,144.17 L631.77,144.11 L633.84,144.04 L635.90,143.98 L637.96,143.92 L640.03,143.85 L642.09,143.79 L644.15,143.73 L646.21,143.66 L648.28,143.60 L650.34,143.53 L652.40,143.47 L654.46,143.40 L656.53,143.33 L658.59,143.27 L660.65,143.20 L662.71,143.13 L664.78,143.06 L666.84,142.99 L668.90,142.92 L670.96,142.85 L673.02,142.78 L675.09,142.70 L677.15,142.63 L679.21,142.56 L681.27,142.48 L683.33,142.40 L685.39,142.33 L687.45,142.25 L689.51,142.17 L691.58,142.09 L693.64,142.01 L695.70,141.92 L697.76,141.84 L699.82,141.76 L701.88,141.67 L703.94,141.58 L706.00,141.50" stroke="#dc143c" stroke-width="0.7" stroke-dasharray="6.5 2 0.8 2"/>
<path d="M112.20,449.60 L112.20,447.31 L112.19,445.03 L112.19,442.75 L112.19,440.46 L112.19,438.18 L112.19,435.90 L112.19,433.61 L112.20,431.33 L112.20,429.04 L112.21,426.76 L112.22,424.47 L112.23,422.19 L112.24,419.90 L112.26,417.62 L112.27,415.33 L112.29,413.05 L112.31,410.76 L112.33,408.48 L112.35,406.19 L112.38,403.91 L112.40,401.62 L112.43,399.34 L112.45,397.05 L112.48,394.77 L112.51,392.48 L112.54,390.20 L112.57,387.91 L112.60,385.63 L112.64,383.34 L112.67,381.06 L112.71,378.77 L112.74,376.49 L112.78,374.20 L112.82,371.91 L112.86,369.63 L112.90,367.34 L112.94,365.06 L112.98,362.77 L113.02,360.49 L113.07,358.20 L113.11,355.92 L113.15,353.63 L113.20,351.35 L113.24,349.06 L113.29,346.78 L113.34,344.49 L113.38,342.21 L113.43,339.92 L113.48,337.63 L113.53,335.35 L113.58,333.06 L113.62,330.78 L113.67,328.50 L113.72,326.21 L113.77,323.93 L113.82,321.64 L113.87,319.36 L113.92,317.07 L113.97,314.79 L114.02,312.50 L114.07,310.22 L114.12,307.94 L114.17,305.65 L114.22,303.37 L114.27,301.08 L114.32,298.80 L114.37,296.52 L114.42,294.23 L114.47,291.95 L114.52,289.67 L114.57,287.38 L114.62,285.10 L114.66,282.82 L114.71,280.53 L114.76,278.25 L114.81,275.97 L114.87,273.69 L114.92,271.40 L114.97,269.12 L115.03,266.84 L115.09,264.56 L115.15,262.27 L115.21,259.99 L115.28,257.71 L115.34,255.43 L115.42,253.14 L115.49,250.86 L115.57,248.58 L115.65,246.30 L115.73,244.01 L115.82,241.73 L115.92,239.45 L116.02,237.16 L116.12,234.88 L116.23,232.60 L116.34,230.31 L116.46,228.03 L116.59,225.74 L116.72,223.46 L116.85,221.18 L117.00,218.89 L117.15,216.61 L117.31,214.32 L117.49,212.04 L117.67,209.76 L117.87,207.48 L118.07,205.20 L118.30,202.93 L118.53,200.65 L118.79,198.38 L119.06,196.11 L119.34,193.84 L119.65,191.58 L119.97,189.32 L120.32,187.06 L120.68,184.81 L121.07,182.56 L121.48,180.32 L121.92,178.08 L122.38,175.84 L122.86,173.61 L123.37,171.39 L123.91,169.17 L124.48,166.95 L125.07,164.74 L125.70,162.54 L126.35,160.35 L127.03,158.17 L127.74,156.00 L128.49,153.83 L129.26,151.68 L130.06,149.54 L130.89,147.41 L131.76,145.30 L132.65,143.20 L133.58,141.11 L134.54,139.04 L135.53,136.99 L136.56,134.95 L137.62,132.93 L138.71,130.93 L139.83,128.94 L140.99,126.98 L142.18,125.04 L143.41,123.12 L144.67,121.22 L145.97,119.34 L147.30,117.49 L148.67,115.66 L150.08,113.86 L151.52,112.08 L152.99,110.33 L154.50,108.60 L156.04,106.90 L157.61,105.23 L159.20,103.58 L160.83,101.97 L162.48,100.38 L164.16,98.83 L165.88,97.31 L167.62,95.83 L169.39,94.40 L171.20,93.01 L173.04,91.66 L174.91,90.36 L176.81,89.12 L178.75,87.93 L180.72,86.80 L182.73,85.72 L184.76,84.71 L186.83,83.75 L188.93,82.84 L191.05,81.99 L193.19,81.19 L195.35,80.44 L197.54,79.75 L199.74,79.10 L201.95,78.50 L204.17,77.95 L206.41,77.44 L208.65,76.98 L210.90,76.56 L213.16,76.19 L215.42,75.85 L217.68,75.56 L219.94,75.30 L222.21,75.07 L224.49,74.87 L226.76,74.71 L229.04,74.57 L231.32,74.45 L233.60,74.35 L235.88,74.27 L238.17,74.21 L240.45,74.16 L242.73,74.12 L245.02,74.09 L247.30,74.07 L249.59,74.05 L251.88,74.05 L254.16,74.05 L256.45,74.06 L258.73,74.07 L261.02,74.10 L263.30,74.13 L265.59,74.17 L267.88,74.21 L270.16,74.27 L272.45,74.33 L274.73,74.40 L277.02,74.47 L279.30,74.55 L281.58,74.64 L283.87,74.74 L286.15,74.84 L288.43,74.95 L290.71,75.07 L293.00,75.19 L295.28,75.31 L297.56,75.45 L299.84,75.58 L302.12,75.72 L304.40,75.87 L306.68,76.02 L308.96,76.17 L311.24,76.32 L313.52,76.48 L315.80,76.64 L318.07,76.80 L320.35,76.96 L322.63,77.13 L324.91,77.29 L327.19,77.45 L329.47,77.62 L331.75,77.78 L334.03,77.94 L336.31,78.10 L338.58,78.26 L340.86,78.42 L343.14,78.58 L345.42,78.74 L347.70,78.90 L349.98,79.05 L352.26,79.21 L354.54,79.37 L356.82,79.52 L359.10,79.68 L361.38,79.83 L363.66,79.99 L365.94,80.14 L368.22,80.29 L370.50,80.44 L372.78,80.60 L375.06,80.75 L377.34,80.90 L379.62,81.05 L381.90,81.20 L384.18,81.34 L386.46,81.49 L388.74,81.64 L391.02,81.79 L393.30,81.93 L395.58,82.08 L397.86,82.22 L400.14,82.37 L402.42,82.51 L404.70,82.65 L406.98,82.80 L409.26,82.94 L411.54,83.08 L413.82,83.22 L416.10,83.36 L418.38,83.50 L420.66,83.64 L422.94,83.78 L425.22,83.92 L427.50,84.05 L429.78,84.19 L432.07,84.32 L434.35,84.46 L436.63,84.59 L438.91,84.73 L441.19,84.86 L443.47,84.99 L445.75,85.13 L448.03,85.26 L450.31,85.39 L452.59,85.52 L454.88,85.65 L457.16,85.78 L459.44,85.91 L461.72,86.03 L464.00,86.16 L466.28,86.29 L468.56,86.41 L470.85,86.54 L473.13,86.66 L475.41,86.79 L477.69,86.91 L479.97,87.03 L482.25,87.16 L484.54,87.28 L486.82,87.40 L489.10,87.52 L491.38,87.64 L493.66,87.76 L495.95,87.88 L498.23,88.00 L500.51,88.11 L502.79,88.23 L505.07,88.34 L507.36,88.46 L509.64,88.57 L511.92,88.69 L514.20,88.80 L516.48,88.91 L518.77,89.03 L521.05,89.14 L523.33,89.25 L525.61,89.36 L527.90,89.47 L530.18,89.58 L532.46,89.69 L534.74,89.79 L537.03,89.90 L539.31,90.01 L541.59,90.11 L543.87,90.22 L546.16,90.32 L548.44,90.43 L550.72,90.53 L553.00,90.63 L555.29,90.73 L557.57,90.84 L559.85,90.94 L562.13,91.04 L564.42,91.14 L566.70,91.23 L568.98,91.33 L571.27,91.43 L573.55,91.53 L575.83,91.62 L578.11,91.72 L580.40,91.81 L582.68,91.91 L584.96,92.00 L587.25,92.09 L589.53,92.19 L591.81,92.28 L594.10,92.37 L596.38,92.46 L598.66,92.55 L600.95,92.64 L603.23,92.72 L605.51,92.81 L607.80,92.90 L610.08,92.99 L612.36,93.07 L614.65,93.16 L616.93,93.24 L619.21,93.32 L621.50,93.41 L623.78,93.49 L626.06,93.57 L628.35,93.65 L630.63,93.73 L632.91,93.81 L635.20,93.89 L637.48,93.97 L639.77,94.05 L642.05,94.12 L644.33,94.20 L646.62,94.28 L648.90,94.35 L651.18,94.43 L653.47,94.50 L655.75,94.57 L658.04,94.64 L660.32,94.72 L662.60,94.79 L664.89,94.86 L667.17,94.93 L669.45,95.00 L671.74,95.06 L674.02,95.13 L676.31,95.20 L678.59,95.26 L680.87,95.33 L683.16,95.39 L685.44,95.46 L687.73,95.52 L690.01,95.59 L692.29,95.65 L694.58,95.71 L696.86,95.77 L699.15,95.83 L701.43,95.89 L703.72,95.95 L706.00,96.00" stroke="#0000ff" stroke-width="0.7" stroke-dasharray="6.5 2 0.8 2"/>
<path d="M112.20,449.60 L112.19,447.51 L112.22,445.44 L112.24,443.36 L112.26,441.28 L112.28,439.21 L112.30,437.13 L112.33,435.05 L112.35,432.97 L112.37,430.90 L112.39,428.82 L112.41,426.74 L112.43,424.66 L112.45,422.58 L112.47,420.50 L112.49,418.42 L112.51,416.34 L112.53,414.25 L112.55,412.17 L112.57,410.09 L112.59,408.01 L112.61,405.93 L112.63,403.84 L112.65,401.76 L112.67,399.68 L112.69,397.59 L112.71,395.51 L112.73,393.42 L112.75,391.34 L112.77,389.26 L112.80,387.17 L112.82,385.09 L112.84,383.00 L112.87,380.92 L112.89,378.83 L112.92,376.75 L112.94,374.66 L112.97,372.58 L112.99,370.49 L113.02,368.41 L113.05,366.32 L113.08,364.24 L113.11,362.15 L113.14,360.07 L113.17,357.98 L113.20,355.90 L113.23,353.81 L113.27,351.73 L113.30,349.64 L113.34,347.56 L113.37,345.47 L113.41,343.39 L113.45,341.30 L113.49,339.22 L113.53,337.13 L113.57,335.05 L113.62,332.97 L113.66,330.88 L113.71,328.80 L113.75,326.71 L113.80,324.63 L113.85,322.55 L113.90,320.47 L113.96,318.38 L114.01,316.30 L114.07,314.22 L114.12,312.14 L114.18,310.06 L114.24,307.97 L114.30,305.89 L114.37,303.81 L114.43,301.73 L114.50,299.65 L114.57,297.57 L114.64,295.49 L114.71,293.42 L114.79,291.34 L114.86,289.26 L114.94,287.18 L115.02,285.10 L115.10,283.03 L115.18,280.95 L115.27,278.88 L115.36,276.80 L115.45,274.73 L115.54,272.65 L115.63,270.58 L115.73,268.51 L115.83,266.43 L115.93,264.36 L116.03,262.29 L116.13,260.22 L116.24,258.15 L116.35,256.08 L116.46,254.01 L116.58,251.94 L116.70,249.87 L116.82,247.80 L116.96,245.73 L117.10,243.66 L117.25,241.59 L117.41,239.51 L117.59,237.43 L117.78,235.34 L117.98,233.25 L118.20,231.16 L118.44,229.06 L118.70,226.95 L118.98,224.84 L119.29,222.73 L119.65,220.63 L120.08,218.55 L120.59,216.52 L121.21,214.53 L121.94,212.61 L122.81,210.76 L123.84,209.00 L125.05,207.39 L126.47,206.02 L128.12,204.97 L129.96,204.26 L131.97,203.85 L134.09,203.65 L136.27,203.58 L138.46,203.53 L140.61,203.45 L142.74,203.31 L144.83,203.12 L146.90,202.90 L148.95,202.64 L150.99,202.35 L153.03,202.03 L155.07,201.70 L157.11,201.34 L159.14,200.96 L161.18,200.57 L163.21,200.16 L165.24,199.73 L167.27,199.28 L169.30,198.82 L171.33,198.35 L173.35,197.86 L175.37,197.36 L177.40,196.85 L179.41,196.32 L181.43,195.79 L183.45,195.24 L185.46,194.69 L187.47,194.13 L189.48,193.56 L191.49,192.99 L193.49,192.41 L195.50,191.83 L197.50,191.24 L199.50,190.65 L201.49,190.06 L203.49,189.47 L205.49,188.88 L207.49,188.30 L209.49,187.71 L211.48,187.13 L213.48,186.56 L215.49,185.99 L217.49,185.43 L219.49,184.88 L221.50,184.33 L223.51,183.80 L225.52,183.28 L227.54,182.77 L229.56,182.26 L231.58,181.77 L233.60,181.29 L235.63,180.81 L237.66,180.35 L239.69,179.89 L241.72,179.44 L243.75,178.99 L245.79,178.56 L247.82,178.13 L249.86,177.71 L251.90,177.29 L253.94,176.88 L255.98,176.48 L258.03,176.08 L260.07,175.69 L262.12,175.30 L264.16,174.92 L266.21,174.54 L268.26,174.17 L270.31,173.80 L272.36,173.43 L274.41,173.07 L276.46,172.71 L278.51,172.36 L280.57,172.01 L282.62,171.67 L284.67,171.32 L286.73,170.99 L288.78,170.65 L290.84,170.32 L292.90,170.00 L294.95,169.68 L297.01,169.36 L299.07,169.04 L301.13,168.73 L303.19,168.42 L305.25,168.12 L307.31,167.82 L309.37,167.52 L311.43,167.22 L313.50,166.93 L315.56,166.64 L317.62,166.36 L319.68,166.08 L321.75,165.80 L323.81,165.52 L325.88,165.25 L327.94,164.98 L330.01,164.71 L332.07,164.45 L334.14,164.18 L336.21,163.93 L338.27,163.67 L340.34,163.41 L342.41,163.16 L344.48,162.91 L346.55,162.67 L348.61,162.42 L350.68,162.18 L352.75,161.94 L354.82,161.70 L356.89,161.47 L358.96,161.23 L361.03,161.00 L363.10,160.77 L365.17,160.55 L367.24,160.32 L369.31,160.10 L371.38,159.88 L373.45,159.66 L375.52,159.44 L377.59,159.22 L379.66,159.01 L381.74,158.80 L383.81,158.59 L385.88,158.38 L387.95,158.18 L390.02,157.97 L392.10,157.77 L394.17,157.57 L396.24,157.37 L398.31,157.17 L400.39,156.98 L402.46,156.79 L404.53,156.60 L406.60,156.41 L408.68,156.22 L410.75,156.03 L412.83,155.85 L414.90,155.67 L416.97,155.48 L419.05,155.31 L421.12,155.13 L423.20,154.95 L425.27,154.78 L427.34,154.61 L429.42,154.44 L431.49,154.27 L433.57,154.10 L435.64,153.93 L437.72,153.77 L439.79,153.61 L441.87,153.44 L443.95,153.29 L446.02,153.13 L448.10,152.97 L450.17,152.82 L452.25,152.66 L454.33,152.51 L456.40,152.36 L458.48,152.21 L460.55,152.06 L462.63,151.92 L464.71,151.77 L466.78,151.63 L468.86,151.49 L470.94,151.35 L473.02,151.21 L475.09,151.07 L477.17,150.93 L479.25,150.80 L481.33,150.67 L483.40,150.53 L485.48,150.40 L487.56,150.27 L489.64,150.14 L491.71,150.02 L493.79,149.89 L495.87,149.77 L497.95,149.64 L500.03,149.52 L502.11,149.40 L504.18,149.28 L506.26,149.16 L508.34,149.05 L510.42,148.93 L512.50,148.81 L514.58,148.70 L516.66,148.59 L518.74,148.48 L520.82,148.37 L522.90,148.26 L524.97,148.15 L527.05,148.04 L529.13,147.94 L531.21,147.83 L533.29,147.73 L535.37,147.62 L537.45,147.52 L539.53,147.42 L541.61,147.32 L543.69,147.22 L545.77,147.13 L547.85,147.03 L549.93,146.93 L552.01,146.84 L554.09,146.74 L556.17,146.65 L558.25,146.56 L560.33,146.47 L562.41,146.38 L564.49,146.29 L566.57,146.20 L568.65,146.11 L570.73,146.02 L572.82,145.94 L574.90,145.85 L576.98,145.77 L579.06,145.68 L581.14,145.60 L583.22,145.52 L585.30,145.43 L587.38,145.35 L589.46,145.27 L591.54,145.19 L593.62,145.12 L595.70,145.04 L597.79,144.96 L599.87,144.88 L601.95,144.81 L604.03,144.73 L606.11,144.66 L608.19,144.58 L610.27,144.51 L612.35,144.44 L614.43,144.36 L616.52,144.29 L618.60,144.22 L620.68,144.15 L622.76,144.08 L624.84,144.01 L626.92,143.94 L629.00,143.87 L631.08,143.80 L633.17,143.74 L635.25,143.67 L637.33,143.60 L639.41,143.53 L641.49,143.47 L643.57,143.40 L645.65,143.34 L647.73,143.27 L649.82,143.21 L651.90,143.14 L653.98,143.08 L656.06,143.02 L658.14,142.95 L660.22,142.89 L662.30,142.83 L664.38,142.77 L666.46,142.71 L668.55,142.64 L670.63,142.58 L672.71,142.52 L674.79,142.46 L676.87,142.40 L678.95,142.34 L681.03,142.28 L683.11,142.22 L685.19,142.16 L687.27,142.10 L689.36,142.04 L691.44,141.98 L693.52,141.92 L695.60,141.86 L697.68,141.80 L699.76,141.74 L701.84,141.69 L703.92,141.63 L706.00,141.50" stroke="#0000ff" stroke-width="0.7" stroke-dasharray="6.5 2 0.8 2"/>
<path d="M112.20,449.60 L112.23,447.47 L112.25,445.32 L112.28,443.16 L112.30,441.01 L112.33,438.86 L112.35,436.71 L112.38,434.57 L112.40,432.42 L112.43,430.27 L112.45,428.12 L112.48,425.97 L112.50,423.83 L112.53,421.68 L112.55,419.53 L112.58,417.39 L112.61,415.24 L112.63,413.09 L112.66,410.95 L112.68,408.80 L112.71,406.66 L112.74,404.51 L112.77,402.37 L112.79,400.23 L112.82,398.08 L112.85,395.94 L112.88,393.79 L112.91,391.65 L112.94,389.51 L112.97,387.37 L113.00,385.22 L113.03,383.08 L113.06,380.94 L113.10,378.80 L113.13,376.66 L113.16,374.51 L113.20,372.37 L113.23,370.23 L113.26,368.09 L113.30,365.95 L113.34,363.81 L113.37,361.67 L113.41,359.53 L113.45,357.38 L113.49,355.24 L113.53,353.10 L113.57,350.96 L113.61,348.82 L113.65,346.68 L113.69,344.54 L113.74,342.40 L113.78,340.26 L113.83,338.12 L113.87,335.98 L113.92,333.84 L113.97,331.70 L114.02,329.56 L114.07,327.42 L114.12,325.27 L114.17,323.13 L114.22,320.99 L114.28,318.85 L114.33,316.71 L114.39,314.57 L114.45,312.43 L114.50,310.29 L114.56,308.14 L114.62,306.00 L114.69,303.86 L114.75,301.72 L114.81,299.58 L114.88,297.43 L114.95,295.29 L115.01,293.15 L115.08,291.01 L115.15,288.86 L115.22,286.72 L115.30,284.57 L115.37,282.43 L115.45,280.29 L115.53,278.14 L115.60,276.00 L115.68,273.85 L115.77,271.71 L115.85,269.56 L115.93,267.42 L116.02,265.27 L116.11,263.12 L116.20,260.98 L116.29,258.83 L116.38,256.68 L116.47,254.53 L116.57,252.38 L116.66,250.24 L116.76,248.09 L116.86,245.94 L116.97,243.79 L117.07,241.64 L117.17,239.49 L117.28,237.34 L117.39,235.18 L117.51,233.03 L117.64,230.89 L117.78,228.74 L117.93,226.59 L118.10,224.45 L118.28,222.31 L118.48,220.17 L118.70,218.04 L118.95,215.91 L119.22,213.78 L119.52,211.66 L119.85,209.55 L120.21,207.44 L120.61,205.34 L121.04,203.25 L121.51,201.16 L122.02,199.08 L122.57,197.01 L123.17,194.94 L123.82,192.89 L124.51,190.85 L125.27,188.84 L126.11,186.87 L127.05,184.97 L128.11,183.16 L129.29,181.45 L130.63,179.87 L132.11,178.42 L133.73,177.09 L135.46,175.85 L137.26,174.69 L139.12,173.59 L141.00,172.53 L142.91,171.49 L144.82,170.48 L146.74,169.49 L148.67,168.53 L150.61,167.59 L152.56,166.67 L154.52,165.77 L156.49,164.89 L158.47,164.03 L160.45,163.18 L162.44,162.36 L164.43,161.55 L166.44,160.76 L168.44,159.99 L170.46,159.23 L172.47,158.49 L174.50,157.77 L176.53,157.06 L178.56,156.37 L180.60,155.69 L182.64,155.03 L184.69,154.39 L186.75,153.76 L188.80,153.14 L190.86,152.54 L192.93,151.95 L194.99,151.38 L197.06,150.82 L199.14,150.28 L201.22,149.75 L203.30,149.23 L205.38,148.73 L207.46,148.24 L209.55,147.77 L211.64,147.30 L213.73,146.85 L215.83,146.41 L217.92,145.98 L220.02,145.57 L222.12,145.16 L224.23,144.77 L226.33,144.39 L228.44,144.02 L230.55,143.66 L232.66,143.31 L234.77,142.97 L236.88,142.64 L239.00,142.32 L241.12,142.00 L243.24,141.70 L245.36,141.41 L247.48,141.12 L249.60,140.85 L251.73,140.58 L253.85,140.32 L255.98,140.07 L258.11,139.82 L260.24,139.58 L262.37,139.35 L264.50,139.13 L266.64,138.91 L268.77,138.69 L270.91,138.49 L273.04,138.29 L275.18,138.09 L277.32,137.90 L279.45,137.72 L281.59,137.54 L283.73,137.36 L285.87,137.19 L288.01,137.02 L290.15,136.86 L292.29,136.70 L294.44,136.54 L296.58,136.39 L298.72,136.24 L300.86,136.09 L303.01,135.94 L305.15,135.80 L307.29,135.65 L309.43,135.51 L311.58,135.37 L313.72,135.24 L315.86,135.10 L318.00,134.96 L320.15,134.83 L322.29,134.70 L324.43,134.57 L326.58,134.44 L328.72,134.31 L330.86,134.19 L333.00,134.06 L335.15,133.94 L337.29,133.82 L339.43,133.70 L341.57,133.58 L343.72,133.46 L345.86,133.35 L348.00,133.23 L350.14,133.12 L352.29,133.01 L354.43,132.90 L356.57,132.79 L358.71,132.68 L360.86,132.58 L363.00,132.47 L365.14,132.37 L367.29,132.27 L369.43,132.17 L371.57,132.07 L373.71,131.97 L375.86,131.87 L378.00,131.78 L380.14,131.69 L382.28,131.59 L384.43,131.50 L386.57,131.41 L388.71,131.32 L390.85,131.23 L393.00,131.15 L395.14,131.06 L397.28,130.98 L399.42,130.89 L401.57,130.81 L403.71,130.73 L405.85,130.65 L407.99,130.57 L410.14,130.49 L412.28,130.42 L414.42,130.34 L416.57,130.27 L418.71,130.20 L420.85,130.12 L422.99,130.05 L425.14,129.98 L427.28,129.91 L429.42,129.85 L431.56,129.78 L433.71,129.71 L435.85,129.65 L437.99,129.58 L440.14,129.52 L442.28,129.46 L444.42,129.40 L446.56,129.34 L448.71,129.28 L450.85,129.22 L452.99,129.17 L455.13,129.11 L457.28,129.05 L459.42,129.00 L461.56,128.95 L463.71,128.89 L465.85,128.84 L467.99,128.79 L470.14,128.74 L472.28,128.69 L474.42,128.64 L476.56,128.60 L478.71,128.55 L480.85,128.50 L482.99,128.46 L485.14,128.41 L487.28,128.37 L489.42,128.33 L491.57,128.29 L493.71,128.24 L495.85,128.20 L497.99,128.16 L500.14,128.13 L502.28,128.09 L504.42,128.05 L506.57,128.01 L508.71,127.98 L510.85,127.94 L513.00,127.91 L515.14,127.87 L517.28,127.84 L519.43,127.80 L521.57,127.77 L523.71,127.74 L525.86,127.71 L528.00,127.68 L530.14,127.65 L532.29,127.62 L534.43,127.59 L536.57,127.56 L538.72,127.53 L540.86,127.51 L543.01,127.48 L545.15,127.45 L547.29,127.43 L549.44,127.40 L551.58,127.38 L553.72,127.35 L555.87,127.33 L558.01,127.30 L560.16,127.28 L562.30,127.26 L564.44,127.24 L566.59,127.21 L568.73,127.19 L570.87,127.17 L573.02,127.15 L575.16,127.13 L577.31,127.11 L579.45,127.09 L581.59,127.07 L583.74,127.05 L585.88,127.03 L588.03,127.02 L590.17,127.00 L592.32,126.98 L594.46,126.96 L596.60,126.95 L598.75,126.93 L600.89,126.91 L603.04,126.90 L605.18,126.88 L607.33,126.86 L609.47,126.85 L611.62,126.83 L613.76,126.82 L615.90,126.80 L618.05,126.79 L620.19,126.77 L622.34,126.76 L624.48,126.74 L626.63,126.73 L628.77,126.72 L630.92,126.70 L633.06,126.69 L635.21,126.67 L637.35,126.66 L639.50,126.65 L641.64,126.63 L643.79,126.62 L645.93,126.61 L648.08,126.59 L650.22,126.58 L652.37,126.57 L654.51,126.55 L656.66,126.54 L658.81,126.52 L660.95,126.51 L663.10,126.50 L665.24,126.48 L667.39,126.47 L669.53,126.46 L671.68,126.44 L673.82,126.43 L675.97,126.42 L678.12,126.40 L680.26,126.39 L682.41,126.37 L684.55,126.36 L686.70,126.34 L688.85,126.33 L690.99,126.31 L693.14,126.30 L695.28,126.28 L697.43,126.27 L699.58,126.25 L701.72,126.24 L703.87,126.22 L706.00,126.20" stroke="#0000ff" stroke-width="2.2"/>
<path d="M112.20,449.60 L112.15,447.39 L112.15,445.19 L112.15,442.98 L112.16,440.78 L112.16,438.57 L112.16,436.37 L112.16,434.16 L112.17,431.96 L112.17,429.75 L112.18,427.55 L112.18,425.34 L112.18,423.14 L112.19,420.93 L112.19,418.73 L112.20,416.52 L112.21,414.31 L112.21,412.11 L112.22,409.90 L112.23,407.70 L112.24,405.49 L112.24,403.29 L112.25,401.08 L112.26,398.87 L112.27,396.67 L112.28,394.46 L112.30,392.26 L112.31,390.05 L112.32,387.84 L112.34,385.64 L112.35,383.43 L112.37,381.22 L112.38,379.02 L112.40,376.81 L112.42,374.61 L112.44,372.40 L112.46,370.19 L112.48,367.99 L112.50,365.78 L112.52,363.57 L112.54,361.37 L112.57,359.16 L112.59,356.95 L112.62,354.75 L112.65,352.54 L112.68,350.34 L112.71,348.13 L112.74,345.92 L112.77,343.72 L112.80,341.51 L112.84,339.30 L112.87,337.10 L112.91,334.89 L112.95,332.69 L112.99,330.48 L113.03,328.27 L113.07,326.07 L113.11,323.86 L113.16,321.66 L113.21,319.45 L113.25,317.24 L113.30,315.04 L113.35,312.83 L113.41,310.63 L113.46,308.42 L113.52,306.22 L113.57,304.01 L113.63,301.81 L113.69,299.60 L113.75,297.40 L113.82,295.19 L113.88,292.99 L113.95,290.78 L114.02,288.58 L114.09,286.37 L114.16,284.17 L114.24,281.96 L114.31,279.76 L114.39,277.55 L114.47,275.35 L114.55,273.15 L114.63,270.94 L114.72,268.74 L114.81,266.53 L114.90,264.33 L114.99,262.13 L115.08,259.92 L115.18,257.72 L115.27,255.52 L115.37,253.31 L115.48,251.11 L115.58,248.91 L115.69,246.71 L115.79,244.50 L115.91,242.30 L116.02,240.10 L116.14,237.90 L116.26,235.70 L116.39,233.50 L116.52,231.29 L116.66,229.09 L116.80,226.89 L116.94,224.70 L117.09,222.50 L117.25,220.30 L117.41,218.10 L117.58,215.90 L117.76,213.71 L117.95,211.51 L118.14,209.32 L118.34,207.12 L118.54,204.93 L118.76,202.74 L118.98,200.54 L119.22,198.35 L119.46,196.16 L119.71,193.97 L119.97,191.78 L120.25,189.60 L120.54,187.41 L120.86,185.23 L121.21,183.05 L121.59,180.88 L122.01,178.71 L122.46,176.54 L122.97,174.39 L123.52,172.23 L124.13,170.09 L124.80,167.95 L125.53,165.83 L126.33,163.72 L127.19,161.63 L128.13,159.58 L129.14,157.58 L130.23,155.62 L131.40,153.73 L132.64,151.91 L133.97,150.18 L135.38,148.53 L136.89,146.98 L138.47,145.54 L140.14,144.20 L141.89,142.95 L143.70,141.78 L145.57,140.70 L147.50,139.70 L149.48,138.76 L151.50,137.88 L153.55,137.07 L155.64,136.30 L157.75,135.58 L159.87,134.90 L162.01,134.25 L164.15,133.63 L166.29,133.04 L168.44,132.47 L170.59,131.93 L172.75,131.41 L174.91,130.91 L177.07,130.44 L179.23,129.99 L181.40,129.56 L183.57,129.16 L185.74,128.77 L187.91,128.40 L190.09,128.05 L192.27,127.72 L194.45,127.41 L196.63,127.11 L198.82,126.83 L201.01,126.57 L203.20,126.32 L205.39,126.08 L207.58,125.86 L209.77,125.65 L211.97,125.45 L214.17,125.26 L216.36,125.08 L218.56,124.92 L220.76,124.76 L222.96,124.61 L225.17,124.47 L227.37,124.33 L229.57,124.20 L231.77,124.08 L233.98,123.96 L236.18,123.85 L238.38,123.74 L240.59,123.63 L242.79,123.52 L245.00,123.42 L247.20,123.33 L249.40,123.23 L251.61,123.14 L253.81,123.05 L256.02,122.96 L258.22,122.88 L260.43,122.80 L262.63,122.72 L264.84,122.65 L267.04,122.57 L269.24,122.50 L271.45,122.44 L273.65,122.37 L275.86,122.31 L278.06,122.25 L280.27,122.19 L282.47,122.13 L284.68,122.08 L286.88,122.03 L289.09,121.98 L291.29,121.93 L293.50,121.88 L295.70,121.84 L297.91,121.80 L300.11,121.76 L302.32,121.72 L304.53,121.68 L306.73,121.64 L308.94,121.61 L311.14,121.58 L313.35,121.55 L315.55,121.52 L317.76,121.49 L319.96,121.46 L322.17,121.44 L324.37,121.41 L326.58,121.39 L328.79,121.37 L330.99,121.34 L333.20,121.32 L335.40,121.30 L337.61,121.28 L339.81,121.27 L342.02,121.25 L344.23,121.23 L346.43,121.22 L348.64,121.20 L350.84,121.18 L353.05,121.17 L355.26,121.16 L357.46,121.14 L359.67,121.13 L361.87,121.11 L364.08,121.10 L366.28,121.09 L368.49,121.08 L370.70,121.06 L372.90,121.05 L375.11,121.04 L377.31,121.03 L379.52,121.02 L381.73,121.00 L383.93,120.99 L386.14,120.98 L388.34,120.97 L390.55,120.96 L392.75,120.95 L394.96,120.94 L397.17,120.93 L399.37,120.92 L401.58,120.91 L403.78,120.90 L405.99,120.89 L408.20,120.88 L410.40,120.87 L412.61,120.86 L414.81,120.85 L417.02,120.85 L419.23,120.84 L421.43,120.83 L423.64,120.82 L425.84,120.81 L428.05,120.81 L430.26,120.80 L432.46,120.79 L434.67,120.78 L436.87,120.78 L439.08,120.77 L441.29,120.76 L443.49,120.76 L445.70,120.75 L447.90,120.74 L450.11,120.74 L452.32,120.73 L454.52,120.73 L456.73,120.72 L458.93,120.71 L461.14,120.71 L463.35,120.70 L465.55,120.70 L467.76,120.69 L469.96,120.69 L472.17,120.68 L474.38,120.68 L476.58,120.67 L478.79,120.67 L480.99,120.67 L483.20,120.66 L485.41,120.66 L487.61,120.65 L489.82,120.65 L492.02,120.65 L494.23,120.64 L496.44,120.64 L498.64,120.64 L500.85,120.63 L503.05,120.63 L505.26,120.63 L507.47,120.62 L509.67,120.62 L511.88,120.62 L514.08,120.61 L516.29,120.61 L518.50,120.61 L520.70,120.61 L522.91,120.60 L525.11,120.60 L527.32,120.60 L529.53,120.60 L531.73,120.60 L533.94,120.59 L536.14,120.59 L538.35,120.59 L540.56,120.59 L542.76,120.59 L544.97,120.58 L547.17,120.58 L549.38,120.58 L551.59,120.58 L553.79,120.58 L556.00,120.58 L558.20,120.58 L560.41,120.57 L562.62,120.57 L564.82,120.57 L567.03,120.57 L569.23,120.57 L571.44,120.57 L573.65,120.57 L575.85,120.57 L578.06,120.57 L580.26,120.56 L582.47,120.56 L584.68,120.56 L586.88,120.56 L589.09,120.56 L591.29,120.56 L593.50,120.56 L595.71,120.56 L597.91,120.56 L600.12,120.56 L602.32,120.56 L604.53,120.56 L606.74,120.55 L608.94,120.55 L611.15,120.55 L613.35,120.55 L615.56,120.55 L617.77,120.55 L619.97,120.55 L622.18,120.55 L624.38,120.55 L626.59,120.55 L628.80,120.55 L631.00,120.55 L633.21,120.55 L635.41,120.55 L637.62,120.54 L639.82,120.54 L642.03,120.54 L644.24,120.54 L646.44,120.54 L648.65,120.54 L650.85,120.54 L653.06,120.54 L655.27,120.54 L657.47,120.54 L659.68,120.54 L661.88,120.53 L664.09,120.53 L666.30,120.53 L668.50,120.53 L670.71,120.53 L672.91,120.53 L675.12,120.53 L677.32,120.53 L679.53,120.52 L681.74,120.52 L683.94,120.52 L686.15,120.52 L688.35,120.52 L690.56,120.52 L692.77,120.51 L694.97,120.51 L697.18,120.51 L699.38,120.51 L701.59,120.51 L703.79,120.50 L706.00,120.50" stroke="#dc143c" stroke-width="2.2" stroke-dasharray="7.8 2.1"/>
<path d="M112.00,121.4 H706.00" stroke="#000" stroke-width="1.6" stroke-dasharray="6 1.6"/>
</g>
<rect x="112.00" y="23.10" width="594.00" height="426.50" fill="none" stroke="#000" stroke-opacity="0.58" stroke-width="1.6"/>
<path d="M149.12,449.60 v-3.20 M149.12,23.10 v3.20 M186.25,449.60 v-6.50 M186.25,23.10 v6.50 M223.38,449.60 v-3.20 M223.38,23.10 v3.20 M260.50,449.60 v-6.50 M260.50,23.10 v6.50 M297.62,449.60 v-3.20 M297.62,23.10 v3.20 M334.75,449.60 v-6.50 M334.75,23.10 v6.50 M371.88,449.60 v-3.20 M371.88,23.10 v3.20 M409.00,449.60 v-6.50 M409.00,23.10 v6.50 M446.12,449.60 v-3.20 M446.12,23.10 v3.20 M483.25,449.60 v-6.50 M483.25,23.10 v6.50 M520.38,449.60 v-3.20 M520.38,23.10 v3.20 M557.50,449.60 v-6.50 M557.50,23.10 v6.50 M594.62,449.60 v-3.20 M594.62,23.10 v3.20 M631.75,449.60 v-6.50 M631.75,23.10 v6.50 M668.88,449.60 v-3.20 M668.88,23.10 v3.20 M112.00,396.29 h3.20 M706.00,396.29 h-3.20 M112.00,342.98 h6.50 M706.00,342.98 h-6.50 M112.00,289.66 h3.20 M706.00,289.66 h-3.20 M112.00,236.35 h6.50 M706.00,236.35 h-6.50 M112.00,183.04 h3.20 M706.00,183.04 h-3.20 M112.00,129.73 h6.50 M706.00,129.73 h-6.50 M112.00,76.41 h3.20 M706.00,76.41 h-3.20" stroke="#000" stroke-opacity="0.72" stroke-width="0.85" fill="none"/>
<g class="s" font-size="23.9" fill="#2a2a2a">
<text transform="translate(97.9,455.60) scale(0.955,1)" text-anchor="end">0</text>
<text transform="translate(97.9,348.98) scale(0.955,1)" text-anchor="end">0.02</text>
<text transform="translate(97.9,242.35) scale(0.955,1)" text-anchor="end">0.04</text>
<text transform="translate(97.9,135.73) scale(0.955,1)" text-anchor="end">0.06</text>
<text transform="translate(97.9,29.10) scale(0.955,1)" text-anchor="end">0.08</text>
<text transform="translate(112.00,479.2) scale(0.955,1)" text-anchor="middle">0</text>
<text transform="translate(186.25,479.2) scale(0.955,1)" text-anchor="middle">5</text>
<text transform="translate(260.50,479.2) scale(0.955,1)" text-anchor="middle">10</text>
<text transform="translate(334.75,479.2) scale(0.955,1)" text-anchor="middle">15</text>
<text transform="translate(409.00,479.2) scale(0.955,1)" text-anchor="middle">20</text>
<text transform="translate(483.25,479.2) scale(0.955,1)" text-anchor="middle">25</text>
<text transform="translate(557.50,479.2) scale(0.955,1)" text-anchor="middle">30</text>
<text transform="translate(631.75,479.2) scale(0.955,1)" text-anchor="middle">35</text>
<text transform="translate(706.00,479.2) scale(0.955,1)" text-anchor="middle">40</text>
</g><g class="s" font-size="22.3" fill="#2a2a2a">
<text x="414.6" y="371.2" textLength="90.8" lengthAdjust="spacing">this work</text>
<text x="414.6" y="394.4" textLength="155" lengthAdjust="spacing">LMD+V lattice</text>
</g>
<path d="M339.6,365.9 H401" stroke="#0000ff" stroke-width="2.2" fill="none"/>
<path d="M339.6,388.7 H401" stroke="#dc143c" stroke-width="2.2" fill="none" stroke-dasharray="8.2 2.3"/>
<g class="s" fill="#2a2a2a">
<text transform="translate(355.71,513.51) scale(1.020,1)" font-size="26.45" font-style="italic">Q</text>
<text transform="translate(375.91,504.50) scale(1.091,1)" font-size="16.46">2</text>
<path d="M396.60,495.50H393.50V519.30H396.60" stroke="#2a2a2a" stroke-width="1.00" fill="none"/>
<text transform="translate(396.27,513.84) scale(0.936,1)" font-size="26.79">G</text>
<text transform="translate(413.63,513.87) scale(1.299,1)" font-size="23.08">e</text>
<text transform="translate(426.60,513.61) scale(1.034,1)" font-size="25.97">V</text>
<text transform="translate(444.72,503.20) scale(1.076,1)" font-size="16.46">2</text>
<path d="M455.00,495.50H458.10V519.30H455.00" stroke="#2a2a2a" stroke-width="1.00" fill="none"/>
</g>
<g class="s" fill="#2a2a2a" transform="translate(47.3,383.2) rotate(-90)">
<text transform="translate(-1.44,-0.43) scale(0.955,1)" font-size="27.30" font-style="italic">Q</text>
<text transform="translate(18.10,-9.60) scale(1.058,1)" font-size="17.22">2</text>
<text transform="translate(29.54,-0.30) scale(1.006,1)" font-size="26.57" font-style="italic">F</text>
<text transform="translate(44.81,3.84) scale(0.999,1)" font-size="16.21" font-style="italic">π</text>
<text transform="translate(54.74,-0.93) scale(1.122,1)" font-size="13.04">0</text>
<text transform="translate(62.90,3.65) scale(1.342,1)" font-size="16.67" font-style="italic">γ</text>
<text transform="translate(73.03,3.51) scale(0.833,1)" font-size="16.36">*</text>
<text transform="translate(82.08,3.65) scale(1.387,1)" font-size="16.67" font-style="italic">γ</text>
<text transform="translate(92.60,3.51) scale(0.879,1)" font-size="16.36">*</text>
<text transform="translate(103.46,-0.27) scale(0.861,1)" font-size="27.57">(</text>
<path d="M114.20,-6.80H128.90" stroke="#2a2a2a" stroke-width="1.00" fill="none"/>
<text transform="translate(130.70,-0.43) scale(0.932,1)" font-size="27.30" font-style="italic">Q</text>
<text transform="translate(149.77,-9.60) scale(1.101,1)" font-size="17.22">2</text>
<text transform="translate(160.88,-0.31) scale(0.766,1)" font-size="28.03">,</text>
<path d="M172.90,-6.80H188.20" stroke="#2a2a2a" stroke-width="1.00" fill="none"/>
<text transform="translate(189.98,-0.43) scale(0.943,1)" font-size="27.30" font-style="italic">Q</text>
<text transform="translate(209.31,-9.60) scale(1.043,1)" font-size="17.22">2</text>
<text transform="translate(219.66,-0.27) scale(0.833,1)" font-size="27.57">)</text>
<path d="M239.00,-18.80H236.10V4.90H239.00" stroke="#2a2a2a" stroke-width="1.00" fill="none"/>
<text transform="translate(239.73,-0.07) scale(0.870,1)" font-size="27.24">G</text>
<text transform="translate(256.67,-0.03) scale(1.241,1)" font-size="23.29">e</text>
<text transform="translate(270.01,-0.20) scale(0.952,1)" font-size="26.72">V</text>
<path d="M288.20,-18.80H291.10V4.90H288.20" stroke="#2a2a2a" stroke-width="1.00" fill="none"/>
</g>
</svg></body></html>
